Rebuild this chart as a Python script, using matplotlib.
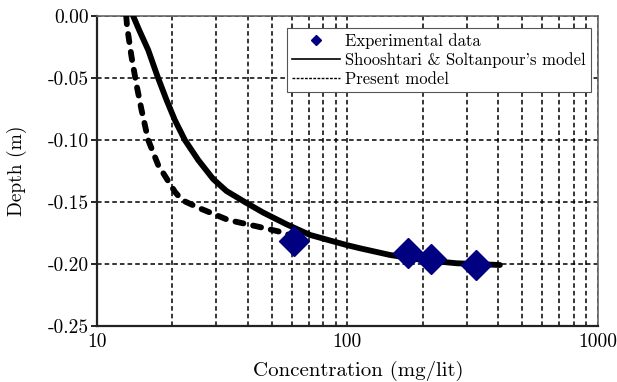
import matplotlib
matplotlib.use("Agg")
import matplotlib.pyplot as plt
from matplotlib.lines import Line2D
import numpy as np

plt.rcParams['font.family'] = ['cmr10', 'DejaVu Serif']
plt.rcParams['axes.unicode_minus'] = False
plt.rcParams['mathtext.fontset'] = 'cm'

# Data
exp_conc = [61, 174, 215, 325]
exp_depth = [-0.1815, -0.191, -0.196, -0.201]

shoosh_conc = [13.96, 14.75, 16.03, 17.41, 18.97, 20.48, 22.45, 25.38, 29.13, 32.95, 38.97,
               46.12, 57.2, 70.85, 85.1, 99.3, 112.2, 147.8, 200.1, 272.9, 406.3]
shoosh_depth = [0.0, -0.0113, -0.0274, -0.0480, -0.0677, -0.0839, -0.1000, -0.1161, -0.1315, -0.1412, -0.1500,
                -0.1585, -0.1680, -0.1765, -0.1810, -0.1847, -0.1873, -0.1927, -0.1968, -0.1994, -0.2008]

present_conc = [13.1, 13.2, 13.75, 14.40, 15.08, 16.03, 17.57, 20.48, 21.84, 25.77, 33.43, 44.05, 53.8, 58.9]
present_depth = [0.0, -0.0086, -0.0328, -0.0556, -0.0758, -0.1000, -0.1202, -0.1417, -0.1484, -0.1551,
                 -0.1645, -0.1699, -0.1740, -0.1766]

xticks = [10, 100, 1000]
xticklabels = ['10', '100', '1000']
yticks = [0.00, -0.05, -0.10, -0.15, -0.20, -0.25]
yticklabels = ['0.00', '-0.05', '-0.10', '-0.15', '-0.20', '-0.25']

fig = plt.figure(figsize=(6.17, 3.82), dpi=100)
ax = fig.add_axes([0.157, 0.1466, 0.812, 0.8114])

ax.set_xscale('log')
ax.set_xlim(10, 1000)
ax.set_ylim(-0.25, 0.0)

ax.plot(present_conc, present_depth, color='black', lw=4.2, ls=(0, (1.4, 1.7)),
        solid_capstyle='round', dash_capstyle='round', solid_joinstyle='round', zorder=3)
ax.plot(shoosh_conc, shoosh_depth, color='black', lw=4.2, solid_capstyle='round',
        solid_joinstyle='round', zorder=4)
ax.plot(exp_conc, exp_depth, ls='none', marker='D', ms=15, color='#000080', mec='#000080', zorder=5)

ax.set_xticks(xticks)
ax.set_xticklabels(xticklabels)
ax.set_yticks(yticks)
ax.set_yticklabels(yticklabels)
ax.tick_params(axis='x', which='both', length=0, labelsize=14, pad=5)
ax.tick_params(axis='y', which='both', length=4, width=1.2, labelsize=14, direction='out', pad=2)

ax.grid(True, which='both', axis='x', color='black', ls=(0, (3, 2)), lw=1.1)
ax.grid(True, which='major', axis='y', color='black', ls=(0, (3, 2)), lw=1.1)

for s in ['left', 'bottom']:
    ax.spines[s].set_linewidth(1.6)
    ax.spines[s].set_color('#222222')
for s in ['top', 'right']:
    ax.spines[s].set_linewidth(1.2)
    ax.spines[s].set_color('#666666')

ax.set_xlabel('Concentration (mg/lit)', fontsize=15)
ax.xaxis.set_label_coords(0.522, -0.112)
ax.set_ylabel('Depth (m)', fontsize=14)
ax.yaxis.set_label_coords(-0.14, 0.5)

handles = [
    Line2D([], [], ls='none', marker='D', ms=5, color='#000080'),
    Line2D([], [], color='black', lw=1.2),
    Line2D([], [], color='black', lw=1.0, ls=(0, (2, 1))),
]
labels = ['Experimental data', "Shooshtari & Soltanpour's model", 'Present model']
leg = ax.legend(handles, labels, loc='upper right', bbox_to_anchor=(0.986, 0.961), fontsize=12,
                frameon=True, fancybox=False, edgecolor='#555555', framealpha=1,
                handlelength=2.9, handletextpad=0.3, labelspacing=0.2, borderpad=0.3, borderaxespad=0)
leg.get_frame().set_linewidth(0.8)

fig.savefig('out.png', dpi=100)
